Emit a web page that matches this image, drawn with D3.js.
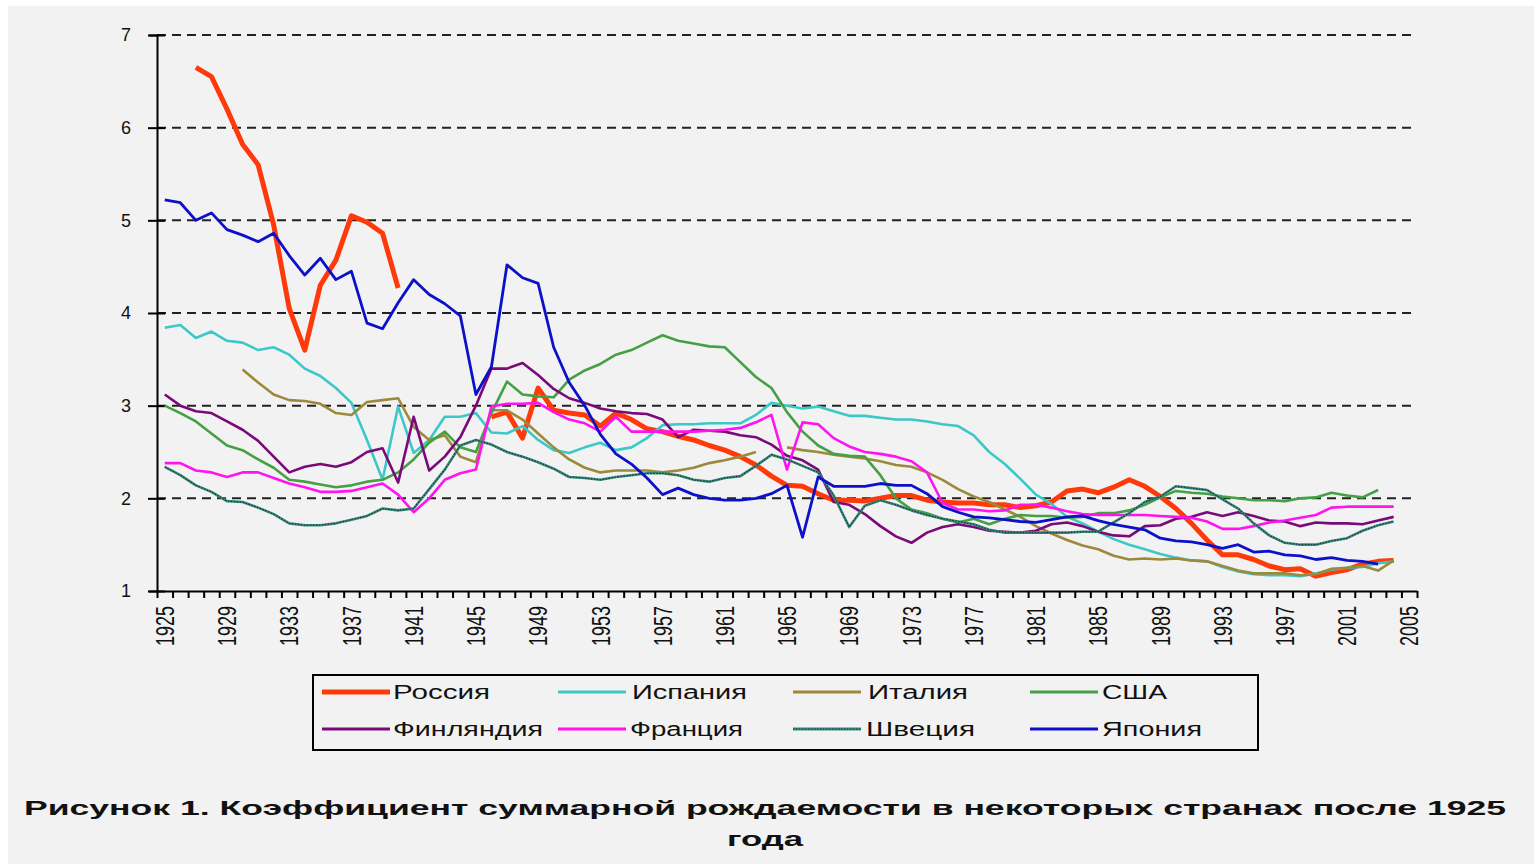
<html>
<head>
<meta charset="utf-8">
<script src="https://d3js.org/d3.v7.min.js"></script>
<style>
  body { margin: 0; background: #fff; }
  text { font-family: "Liberation Sans", Arial, sans-serif; fill: #111; }
</style>
</head>
<body>
<div id="chart"></div>
<script>
// categories on the x axis (data runs 1925-2004, axis runs to 2005)
var years = [1925, 1926, 1927, 1928, 1929, 1930, 1931, 1932, 1933, 1934,
  1935, 1936, 1937, 1938, 1939, 1940, 1941, 1942, 1943, 1944,
  1945, 1946, 1947, 1948, 1949, 1950, 1951, 1952, 1953, 1954,
  1955, 1956, 1957, 1958, 1959, 1960, 1961, 1962, 1963, 1964,
  1965, 1966, 1967, 1968, 1969, 1970, 1971, 1972, 1973, 1974,
  1975, 1976, 1977, 1978, 1979, 1980, 1981, 1982, 1983, 1984,
  1985, 1986, 1987, 1988, 1989, 1990, 1991, 1992, 1993, 1994,
  1995, 1996, 1997, 1998, 1999, 2000, 2001, 2002, 2003, 2004];
var xTickLabels = [1925, 1929, 1933, 1937, 1941, 1945, 1949, 1953, 1957, 1961,
  1965, 1969, 1973, 1977, 1981, 1985, 1989, 1993, 1997, 2001, 2005];
var yTickLabels = [1, 2, 3, 4, 5, 6, 7];

var russia = [
  null, null, 6.65, 6.55, 6.2, 5.82, 5.6, 4.95, 4.05, 3.6,
  4.3, 4.57, 5.05, 4.98, 4.86, 4.27, null, null, null, null,
  null, 2.88, 2.93, 2.65, 3.19, 2.95, 2.92, 2.9, 2.78, 2.92,
  2.85, 2.75, 2.72, 2.67, 2.63, 2.57, 2.52, 2.45, 2.36, 2.24,
  2.14, 2.13, 2.05, 1.98, 1.98, 1.97, 2.0, 2.03, 2.03, 1.98,
  1.96, 1.95, 1.95, 1.93, 1.93, 1.9, 1.92, 1.96, 2.08, 2.1,
  2.06, 2.12, 2.2, 2.13, 2.02, 1.89, 1.73, 1.55, 1.39, 1.39,
  1.34, 1.27, 1.23, 1.24, 1.16, 1.2, 1.23, 1.29, 1.32, 1.33];
var spain = [
  3.84, 3.87, 3.73, 3.8, 3.7, 3.68, 3.6, 3.63, 3.55, 3.4,
  3.32, 3.19, 3.03, 2.63, 2.2, 2.99, 2.49, 2.63, 2.88, 2.88,
  2.92, 2.71, 2.7, 2.78, 2.63, 2.52, 2.49, 2.55, 2.6, 2.52,
  2.55, 2.65, 2.79, 2.8, 2.8, 2.81, 2.81, 2.81, 2.9, 3.03,
  3.0, 2.97, 2.99, 2.94, 2.89, 2.89, 2.87, 2.85, 2.85, 2.83,
  2.8, 2.78, 2.68, 2.5, 2.37, 2.21, 2.04, 1.94, 1.8, 1.73,
  1.64, 1.56, 1.5, 1.45, 1.4, 1.36, 1.33, 1.32, 1.26, 1.21,
  1.18, 1.17, 1.17, 1.16, 1.19, 1.23, 1.25, 1.26, 1.3, 1.32];
var italy = [
  null, null, null, null, null, 3.39, 3.25, 3.12, 3.06, 3.05,
  3.02, 2.92, 2.9, 3.04, 3.06, 3.08, 2.77, 2.63, 2.68, 2.45,
  2.39, 2.95, 2.95, 2.85, 2.7, 2.55, 2.42, 2.33, 2.28, 2.3,
  2.3, 2.3, 2.28, 2.3, 2.33, 2.38, 2.41, 2.45, 2.5, null,
  2.55, 2.52, 2.5, 2.47, 2.45, 2.43, 2.4, 2.36, 2.34, 2.28,
  2.2, 2.1, 2.02, 1.96, 1.88, 1.8, 1.7, 1.62, 1.55, 1.49,
  1.45, 1.38, 1.34, 1.35, 1.34, 1.35, 1.33, 1.32, 1.27, 1.22,
  1.19, 1.19, 1.19, 1.17, 1.18, 1.24, 1.25, 1.27, 1.22, 1.33];
var usa = [
  3.0, 2.92, 2.83, 2.7, 2.57, 2.52, 2.42, 2.33, 2.2, 2.18,
  2.15, 2.12, 2.14, 2.18, 2.2, 2.28, 2.42, 2.6, 2.72, 2.55,
  2.5, 2.92, 3.26, 3.12, 3.1, 3.09, 3.28, 3.38, 3.45, 3.55,
  3.6, 3.68, 3.76, 3.7, 3.67, 3.64, 3.63, 3.47, 3.31, 3.19,
  2.93, 2.72, 2.57, 2.48, 2.46, 2.45, 2.25, 2.0, 1.88, 1.84,
  1.78, 1.74, 1.78, 1.72, 1.78, 1.82, 1.81, 1.81, 1.79, 1.8,
  1.84, 1.84, 1.87, 1.93, 2.01, 2.08, 2.06, 2.05, 2.02, 2.0,
  1.98, 1.98, 1.97, 2.0, 2.01, 2.06, 2.03, 2.01, 2.09, null];
var finland = [
  3.12, 3.0, 2.94, 2.92, 2.83, 2.74, 2.62, 2.45, 2.28, 2.34,
  2.37, 2.34, 2.39, 2.5, 2.54, 2.17, 2.88, 2.3, 2.45, 2.66,
  3.0, 3.4, 3.4, 3.46, 3.33, 3.18, 3.08, 3.03, 2.97, 2.94,
  2.92, 2.91, 2.85, 2.66, 2.74, 2.73, 2.72, 2.68, 2.66, 2.58,
  2.46, 2.41, 2.31, 1.96, 1.93, 1.83, 1.7, 1.59, 1.52, 1.63,
  1.69, 1.72, 1.69, 1.65, 1.64, 1.63, 1.65, 1.72, 1.74, 1.7,
  1.64, 1.6, 1.59, 1.7, 1.71, 1.78, 1.8, 1.85, 1.81, 1.85,
  1.81, 1.76, 1.75, 1.7, 1.74, 1.73, 1.73, 1.72, 1.76, 1.8];
var france = [
  2.38, 2.38, 2.3, 2.28, 2.23, 2.28, 2.28, 2.22, 2.16, 2.12,
  2.07, 2.07, 2.08, 2.12, 2.16, 2.04, 1.85, 2.0, 2.2, 2.27,
  2.31, 2.99, 3.02, 3.02, 3.03, 2.93, 2.85, 2.81, 2.72, 2.88,
  2.72, 2.72, 2.72, 2.72, 2.72, 2.73, 2.74, 2.76, 2.82, 2.9,
  2.31, 2.82, 2.8, 2.65, 2.56, 2.5, 2.48, 2.45, 2.4, 2.28,
  1.95, 1.88, 1.88, 1.86, 1.87, 1.93, 1.93, 1.9, 1.86, 1.83,
  1.82, 1.82, 1.82, 1.82, 1.81, 1.8, 1.79, 1.75, 1.67, 1.67,
  1.7, 1.74, 1.76, 1.79, 1.82, 1.9, 1.91, 1.91, 1.91, 1.91];
var sweden = [
  2.34, 2.25, 2.14, 2.07, 1.97, 1.96, 1.9, 1.83, 1.73, 1.71,
  1.71, 1.73, 1.77, 1.81, 1.89, 1.87, 1.89, 2.1, 2.31, 2.57,
  2.63, 2.58, 2.5, 2.45, 2.39, 2.32, 2.23, 2.22, 2.2, 2.23,
  2.25, 2.27, 2.27, 2.25, 2.2, 2.18, 2.22, 2.24, 2.35, 2.47,
  2.42, 2.35, 2.28, 2.03, 1.69, 1.92, 1.98, 1.93, 1.87, 1.82,
  1.78, 1.75, 1.72, 1.66, 1.63, 1.63, 1.63, 1.63, 1.63, 1.64,
  1.64, 1.74, 1.84, 1.96, 2.02, 2.13, 2.11, 2.09, 1.99, 1.89,
  1.73, 1.6, 1.52, 1.5, 1.5, 1.54, 1.57, 1.65, 1.71, 1.75];
var japan = [
  5.22, 5.19, 5.0, 5.08, 4.9, 4.84, 4.77, 4.86, 4.62, 4.41,
  4.59, 4.36, 4.45, 3.89, 3.83, 4.11, 4.36, 4.2, 4.1, 3.97,
  3.12, 3.42, 4.52, 4.38, 4.32, 3.63, 3.25, 3.0, 2.69, 2.48,
  2.37, 2.22, 2.04, 2.11, 2.04, 2.0, 1.98, 1.98, 2.0, 2.05,
  2.14, 1.58, 2.23, 2.13, 2.13, 2.13, 2.16, 2.14, 2.14, 2.05,
  1.91, 1.85, 1.8, 1.79, 1.77, 1.75, 1.74, 1.77, 1.8, 1.81,
  1.76, 1.72, 1.69, 1.66, 1.57, 1.54, 1.53, 1.5, 1.46, 1.5,
  1.42, 1.43, 1.39, 1.38, 1.34, 1.36, 1.33, 1.32, 1.29, null];

var seriesNames = ["Россия", "Испания", "Италия", "США", "Финляндия", "Франция", "Швеция", "Япония"];
var seriesValues = [russia, spain, italy, usa, finland, france, sweden, japan];
var seriesColors = ["#ff3a0a", "#3cc8c8", "#9c8a3c", "#45a045", "#7a0a7a", "#ff14f0", "#3a8c78", "#0c10c8"];
var seriesWidths = [5, 2.6, 2.6, 2.6, 2.6, 2.6, 2.6, 2.8];
var titleLine1 = "Рисунок 1. Коэффициент суммарной рождаемости в некоторых странах после 1925";
var titleLine2 = "года";

var W = 1534, H = 864;
var svg = d3.select('#chart').append('svg')
  .attr('width', W).attr('height', H);

svg.append('rect').attr('x', 8).attr('y', 6).attr('width', W - 8).attr('height', H - 6)
  .attr('fill', '#f2f2f2');

var x = d3.scaleLinear().domain([1924.5, 2005.5]).range([157, 1417]);
var y = d3.scaleLinear().domain([1, 7]).range([591, 35]);

// dashed gridlines
svg.append('g').selectAll('line')
  .data(yTickLabels.filter(function (d) { return d > 1; }))
  .enter().append('line')
  .attr('x1', 157).attr('x2', 1417)
  .attr('y1', function (d) { return y(d); }).attr('y2', function (d) { return y(d); })
  .attr('stroke', '#222').attr('stroke-width', 2).attr('stroke-dasharray', '9,6');

// y axis
var yAxis = svg.append('g').attr('transform', 'translate(157,0)')
  .call(d3.axisLeft(y).tickValues(yTickLabels).tickFormat(d3.format('d')).tickSize(8).tickPadding(18));
yAxis.select('.domain').attr('stroke', '#000').attr('stroke-width', 2);
yAxis.selectAll('.tick line').attr('x2', -9).attr('x1', 8).attr('stroke', '#000').attr('stroke-width', 2);
yAxis.selectAll('.tick text').attr('font-size', 18).attr('fill', '#111')
  .style('font-family', '"Liberation Sans", Arial, sans-serif');

// x axis: tick marks at category boundaries
var bounds = years.map(function (d) { return d - 0.5; }).concat([2004.5, 2005.5]);
var xMarks = svg.append('g').attr('transform', 'translate(0,591)')
  .call(d3.axisBottom(x).tickValues(bounds).tickFormat('').tickSize(7).tickSizeOuter(0));
xMarks.select('.domain').attr('stroke', '#000').attr('stroke-width', 2);
xMarks.selectAll('.tick line').attr('stroke', '#000').attr('stroke-width', 2);

// x axis labels, rotated
var xLabels = svg.append('g').attr('transform', 'translate(0,591)')
  .call(d3.axisBottom(x).tickValues(xTickLabels).tickFormat(d3.format('d')).tickSize(0));
xLabels.select('.domain').remove();
xLabels.selectAll('.tick text')
  .attr('font-size', 18).attr('fill', '#111')
  .style('font-family', '"Liberation Sans", Arial, sans-serif')
  .attr('text-anchor', 'end')
  .attr('y', 0).attr('dy', 0)
  .attr('dominant-baseline', 'central')
  .attr('transform', 'translate(0,15) rotate(-90) scale(1,1.45)');

// lines
var line = d3.line()
  .defined(function (d) { return d.v != null; })
  .x(function (d) { return x(d.year); })
  .y(function (d) { return y(d.v); });

seriesValues.forEach(function (vals, i) {
  var pts = years.map(function (yr, j) { return { year: yr, v: vals[j] }; });
  svg.append('path').datum(pts)
    .attr('d', line)
    .attr('fill', 'none')
    .attr('stroke', seriesColors[i])
    .attr('stroke-width', seriesWidths[i])
    .attr('stroke-linejoin', 'round');
  if (seriesNames[i] === 'Швеция') {
    svg.append('path').datum(pts)
      .attr('d', line)
      .attr('fill', 'none')
      .attr('stroke', '#1a3448')
      .attr('stroke-width', 1.2)
      .attr('stroke-dasharray', '1.5,1.5');
  }
});

// legend
svg.append('rect').attr('x', 313).attr('y', 675).attr('width', 945).attr('height', 75)
  .attr('fill', '#f2f2f2').attr('stroke', '#000').attr('stroke-width', 2);

var legCols = [322, 558, 793, 1030];
var legRows = [692, 729];
var legTextX = [[393, 632, 868, 1102], [393, 630, 866, 1102]];
var legTextW = [[97, 115, 100, 65], [150, 113, 109, 100]];

seriesNames.forEach(function (name, i) {
  var r = Math.floor(i / 4), c = i % 4;
  var g = svg.append('g');
  g.append('line')
    .attr('x1', legCols[c]).attr('x2', legCols[c] + 68)
    .attr('y1', legRows[r]).attr('y2', legRows[r])
    .attr('stroke', seriesColors[i])
    .attr('stroke-width', i === 0 ? 5 : 3);
  if (name === 'Швеция') {
    g.append('line')
      .attr('x1', legCols[c]).attr('x2', legCols[c] + 68)
      .attr('y1', legRows[r]).attr('y2', legRows[r])
      .attr('stroke', '#1a3448').attr('stroke-width', 1.2).attr('stroke-dasharray', '1.5,1.5');
  }
  g.append('text')
    .attr('x', legTextX[r][c]).attr('y', legRows[r])
    .attr('dominant-baseline', 'central')
    .attr('font-size', 20)
    .attr('textLength', legTextW[r][c])
    .attr('lengthAdjust', 'spacingAndGlyphs')
    .text(name);
});

// caption
svg.append('text')
  .attr('x', 24).attr('y', 815)
  .attr('font-size', 20).attr('font-weight', 'bold').attr('fill', '#222')
  .attr('textLength', 1482).attr('lengthAdjust', 'spacingAndGlyphs')
  .text(titleLine1);
svg.append('text')
  .attr('x', 727).attr('y', 846)
  .attr('font-size', 20).attr('font-weight', 'bold').attr('fill', '#222')
  .attr('textLength', 76).attr('lengthAdjust', 'spacingAndGlyphs')
  .text(titleLine2);
</script>
</body>
</html>
